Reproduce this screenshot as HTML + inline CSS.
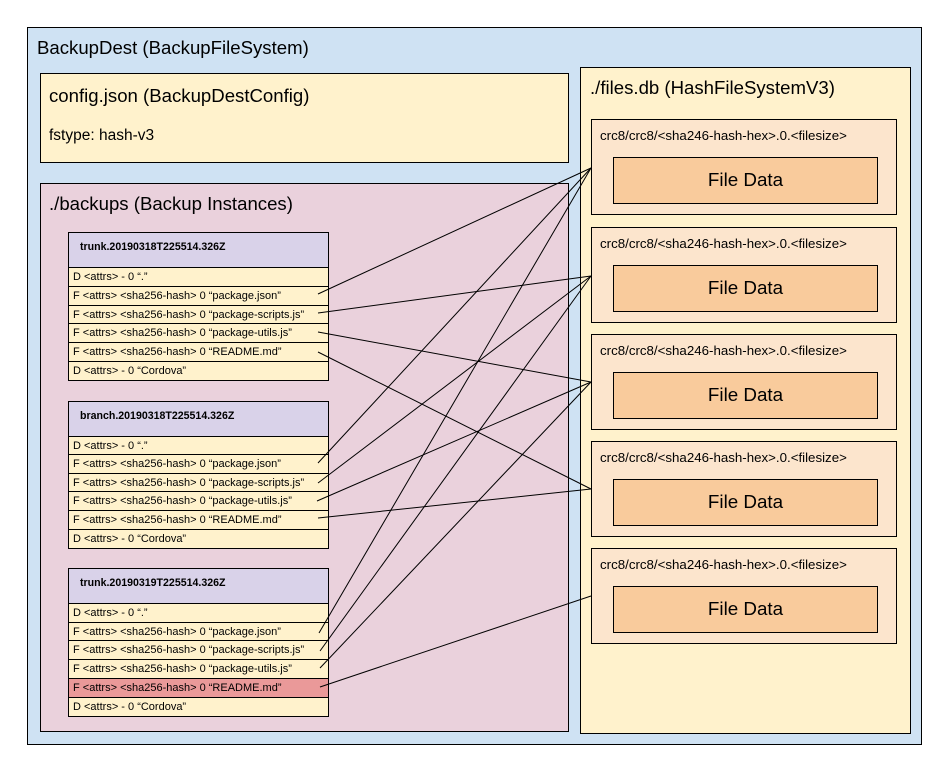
<!DOCTYPE html>
<html><head><meta charset="utf-8"><style>
body{margin:0;width:944px;height:769px;background:#fff;position:relative;font-family:"Liberation Sans",sans-serif;overflow:hidden}
.b{position:absolute;box-sizing:border-box;border:1px solid #000}
.t{position:absolute;white-space:nowrap;color:#000}
.r{position:absolute;left:68px;width:261px;height:20px;box-sizing:border-box;border:1px solid #000;background:#fff2cc;font-size:11px;line-height:18px;padding-left:4px;white-space:nowrap}
.h{position:absolute;left:68px;width:261px;height:36px;box-sizing:border-box;border:1px solid #000;background:#d9d2e9;font-size:10.6px;font-weight:bold;padding:8px 0 0 11px}
.hb{position:absolute;left:591px;width:306px;height:96px;box-sizing:border-box;border:1px solid #000;background:#fce5cd}
.hb span{position:absolute;left:8px;top:8px;font-size:13.3px}
.fd{position:absolute;left:21px;top:37px;width:265px;height:47px;box-sizing:border-box;border:1px solid #000;background:#f9cb9c;font-size:18.8px;text-align:center;line-height:43px}
</style></head><body>
<div class="b" style="left:27px;top:27px;width:895px;height:718px;background:#cfe2f3"></div>
<div class="t" style="left:37px;top:37px;font-size:18.6px">BackupDest (BackupFileSystem)</div>
<div class="b" style="left:40px;top:73px;width:529px;height:90px;background:#fff2cc"></div>
<div class="t" style="left:49px;top:85px;font-size:18.6px">config.json (BackupDestConfig)</div>
<div class="t" style="left:49px;top:127px;font-size:15.5px">fstype: hash-v3</div>
<div class="b" style="left:40px;top:183px;width:529px;height:549px;background:#ead1dc"></div>
<div class="t" style="left:49px;top:193px;font-size:18.6px">./backups (Backup Instances)</div>
<div class="b" style="left:580px;top:67px;width:331px;height:667px;background:#fff2cc"></div>
<div class="t" style="left:590px;top:77px;font-size:18.6px">./files.db (HashFileSystemV3)</div>

<div class="hb" style="top:119px"><span>crc8/crc8/&lt;sha246-hash-hex&gt;.0.&lt;filesize&gt;</span><div class="fd">File Data</div></div>
<div class="hb" style="top:227px"><span>crc8/crc8/&lt;sha246-hash-hex&gt;.0.&lt;filesize&gt;</span><div class="fd">File Data</div></div>
<div class="hb" style="top:334px"><span>crc8/crc8/&lt;sha246-hash-hex&gt;.0.&lt;filesize&gt;</span><div class="fd">File Data</div></div>
<div class="hb" style="top:441px"><span>crc8/crc8/&lt;sha246-hash-hex&gt;.0.&lt;filesize&gt;</span><div class="fd">File Data</div></div>
<div class="hb" style="top:548px"><span>crc8/crc8/&lt;sha246-hash-hex&gt;.0.&lt;filesize&gt;</span><div class="fd">File Data</div></div>

<div class="h" style="top:232px">trunk.20190318T225514.326Z</div>
<div class="r" style="top:267px">D &lt;attrs&gt; - 0 “.”</div>
<div class="r" style="top:286px">F &lt;attrs&gt; &lt;sha256-hash&gt; 0 “package.json”</div>
<div class="r" style="top:305px">F &lt;attrs&gt; &lt;sha256-hash&gt; 0 “package-scripts.js”</div>
<div class="r" style="top:323px">F &lt;attrs&gt; &lt;sha256-hash&gt; 0 “package-utils.js”</div>
<div class="r" style="top:342px">F &lt;attrs&gt; &lt;sha256-hash&gt; 0 “README.md”</div>
<div class="r" style="top:361px">D &lt;attrs&gt; - 0 “Cordova”</div>

<div class="h" style="top:401px">branch.20190318T225514.326Z</div>
<div class="r" style="top:436px">D &lt;attrs&gt; - 0 “.”</div>
<div class="r" style="top:454px">F &lt;attrs&gt; &lt;sha256-hash&gt; 0 “package.json”</div>
<div class="r" style="top:473px">F &lt;attrs&gt; &lt;sha256-hash&gt; 0 “package-scripts.js”</div>
<div class="r" style="top:491px">F &lt;attrs&gt; &lt;sha256-hash&gt; 0 “package-utils.js”</div>
<div class="r" style="top:510px">F &lt;attrs&gt; &lt;sha256-hash&gt; 0 “README.md”</div>
<div class="r" style="top:529px">D &lt;attrs&gt; - 0 “Cordova”</div>

<div class="h" style="top:568px">trunk.20190319T225514.326Z</div>
<div class="r" style="top:603px">D &lt;attrs&gt; - 0 “.”</div>
<div class="r" style="top:622px">F &lt;attrs&gt; &lt;sha256-hash&gt; 0 “package.json”</div>
<div class="r" style="top:640px">F &lt;attrs&gt; &lt;sha256-hash&gt; 0 “package-scripts.js”</div>
<div class="r" style="top:659px">F &lt;attrs&gt; &lt;sha256-hash&gt; 0 “package-utils.js”</div>
<div class="r" style="top:678px;background:#ea9999">F &lt;attrs&gt; &lt;sha256-hash&gt; 0 “README.md”</div>
<div class="r" style="top:697px">D &lt;attrs&gt; - 0 “Cordova”</div>

<svg style="position:absolute;left:0;top:0" width="944" height="769" fill="none" stroke="#000" stroke-width="1">
<line x1="318" y1="294" x2="591" y2="168"/>
<line x1="318" y1="313" x2="591" y2="276"/>
<line x1="318" y1="332" x2="591" y2="382"/>
<line x1="318" y1="352" x2="591" y2="489"/>
<line x1="318" y1="463" x2="591" y2="168"/>
<line x1="318" y1="483" x2="591" y2="276"/>
<line x1="317" y1="501" x2="591" y2="382"/>
<line x1="318" y1="518" x2="591" y2="489"/>
<line x1="319" y1="633" x2="591" y2="168"/>
<line x1="320" y1="651" x2="591" y2="276"/>
<line x1="320" y1="668" x2="591" y2="382"/>
<line x1="320" y1="687" x2="591" y2="596"/>
</svg>
</body></html>
